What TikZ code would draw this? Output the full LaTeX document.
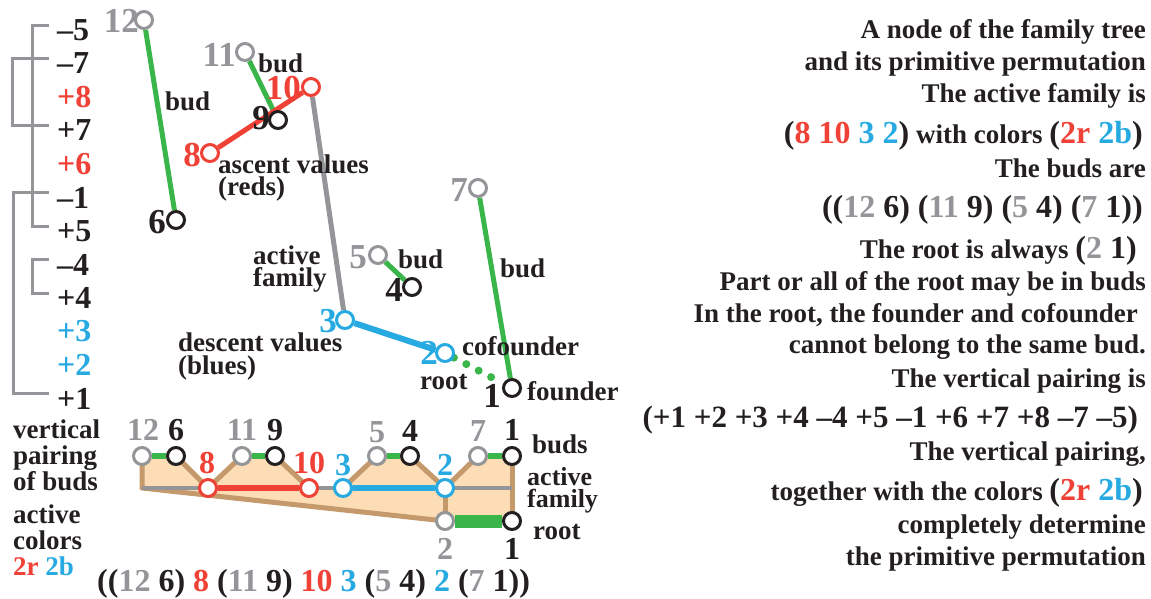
\documentclass[tikz,border=0pt]{standalone}
\usepackage{fontspec}
\setmainfont{Liberation Serif}
\definecolor{cR}{RGB}{239,65,54}
\definecolor{cB}{RGB}{39,170,225}
\definecolor{cG}{RGB}{57,181,74}
\definecolor{cY}{RGB}{147,149,152}
\definecolor{cK}{RGB}{35,31,32}
\definecolor{cT}{RGB}{196,154,108}
\definecolor{cP}{RGB}{253,221,181}
\pgfdeclarelayer{back}
\pgfdeclarelayer{mid}
\pgfsetlayers{back,mid,main}
\newcommand\xr[1]{\textcolor{cR}{#1}}
\newcommand\xb[1]{\textcolor{cB}{#1}}
\newcommand\xg[1]{\textcolor{cY}{#1}}
\newcommand\bgf{\fontsize{32}{32}\selectfont}
\begin{document}
\begin{tikzpicture}[x=1pt,y=-1pt,font=\bfseries\fontsize{27}{22}\selectfont,
  every node/.style={inner sep=0pt,text=cK},
  nd/.style={circle,draw=#1,line width=3pt,fill=white,minimum size=17pt,inner sep=0pt},
  unum/.style={font=\bfseries\fontsize{35}{35}\selectfont,anchor=east,text=#1},
  lnum/.style={font=\bfseries\fontsize{32}{32}\selectfont,text=#1},
  bnum/.style={font=\bfseries\fontsize{32}{32}\selectfont,anchor=west,text=#1},
  wrd/.style={anchor=base west},
  rt/.style={anchor=base east},
  brk/.style={draw=cY,line width=3pt},
  budline/.style={draw=cG,line width=5pt},
  tanl/.style={draw=cT,line width=5pt,line join=round,line cap=round}]
\useasboundingbox (0,0) rectangle (1151,598);

% ---------- left vertical pairing labels ----------
\node[bnum=cK] (bm5) at (57,30) {–5};
\node[bnum=cK] (bm7) at (57,63.5) {–7};
\node[bnum=cR] (bp8) at (57,97) {+8};
\node[bnum=cK] (bp7) at (57,130.5) {+7};
\node[bnum=cR] (bp6) at (57,164) {+6};
\node[bnum=cK] (bm1) at (57,197.5) {–1};
\node[bnum=cK] (bp5) at (57,231) {+5};
\node[bnum=cK] (bm4) at (57,264.5) {–4};
\node[bnum=cK] (bp4) at (57,298) {+4};
\node[bnum=cB] (bp3) at (57,331.5) {+3};
\node[bnum=cB] (bp2) at (57,365) {+2};
\node[bnum=cK] (bp1) at (57,398.5) {+1};
\draw[brk] ([shift={(-8,-5)}]bm5.west) -- ++(-17,0) |- ([shift={(-8,-5)}]bp5.west);
\draw[brk] ([shift={(-8,-5)}]bm7.west) -- ++(-37,0) |- ([shift={(-8,-5)}]bp7.west);
\draw[brk] ([shift={(-8,-5)}]bm1.west) -- ++(-36,0) |- ([shift={(-8,-5)}]bp1.west);
\draw[brk] ([shift={(-8,-5)}]bm4.west) -- ++(-17,0) |- ([shift={(-8,-5)}]bp4.west);

% ---------- upper diagram ----------
\node[nd=cY] (u12) at (144,20) {};
\node[nd=cK] (u6) at (176,220) {};
\node[nd=cY] (u11) at (245,52) {};
\node[nd=cK] (u9) at (278,120) {};
\node[nd=cR] (u10) at (311,87) {};
\node[nd=cR] (u8) at (210,153) {};
\node[nd=cY] (u7) at (478,188) {};
\node[nd=cY] (u5) at (378,255) {};
\node[nd=cK] (u4) at (412,287) {};
\node[nd=cB] (u3) at (345,320) {};
\node[nd=cB] (u2) at (445,353) {};
\node[nd=cK] (u1) at (512,388) {};

\node[unum=cY] (t12) at (139,21) {12};
\node[unum=cK] (t6) at (166,222) {6};
\node[unum=cY] (t11) at (236,55) {11};
\node[unum=cK] (t9) at (270,118) {9};
\node[unum=cR] (t10) at (301,88) {10};
\node[unum=cR] (t8) at (201,155) {8};
\node[unum=cY] (t7) at (468,190) {7};
\node[unum=cY] (t5) at (367,257) {5};
\node[unum=cK] (t4) at (403,290) {4};
\node[unum=cB] (t3) at (337,321) {3};
\node[unum=cB] (t2) at (438,353) {2};
\node[unum=cK] (t1) at (501,396) {1};

\begin{pgfonlayer}{mid}
\draw[budline] (u12) -- (u6);
\draw[budline] (u11) -- (u9);
\draw[budline] (u5) -- (u4);
\draw[budline] (u7) -- (u1);
\draw[draw=cR,line width=5pt] (u8) -- (u10);
\draw[draw=cY,line width=5pt] (u10) -- (u3);
\draw[draw=cB,line width=6pt] (u3) -- (u2);
\draw[draw=cG,line width=8pt,line cap=round,dash pattern=on 0pt off 14pt] (u2) -- (u1);
\end{pgfonlayer}

\node[wrd] (w1) at (165,110) {bud};
\node[wrd] (w2) at (258,72) {bud};
\node[wrd] (w3) at (218,173) {ascent values};
\node[wrd] (w4) at (218,195) {(reds)};
\node[wrd] (w5) at (253,264) {active};
\node[wrd] (w6) at (253,286) {family};
\node[wrd] (w7) at (178,351) {descent values};
\node[wrd] (w8) at (178,374) {(blues)};
\node[wrd] (w9) at (398,268) {bud};
\node[wrd] (w10) at (500,277) {bud};
\node[wrd] (w11) at (462,355) {cofounder};
\node[wrd] (w12) at (420,389) {root};
\node[wrd] (w13) at (527,400) {founder};

% ---------- lower diagram ----------
\node[nd=cY] (l12) at (142,456) {};
\node[nd=cK] (l6) at (176,456) {};
\node[nd=cY] (l11) at (242,456) {};
\node[nd=cK] (l9) at (275,456) {};
\node[nd=cR] (l8) at (208,488) {};
\node[nd=cR] (l10) at (309,488) {};
\node[nd=cB] (l3) at (343,488) {};
\node[nd=cY] (l5) at (377,456) {};
\node[nd=cK] (l4) at (410,456) {};
\node[nd=cB] (l2) at (445,488) {};
\node[nd=cY] (l7) at (478,456) {};
\node[nd=cK] (l1) at (512,456) {};
\node[nd=cY] (r2) at (445,521) {};
\node[nd=cK] (r1) at (512,521) {};
\coordinate (cL) at (142,488);
\coordinate (cE) at (512,488);

\node[lnum=cY] (s12) at (143,430) {12};
\node[lnum=cK] (s6) at (176,430) {6};
\node[lnum=cY] (s11) at (242,430) {11};
\node[lnum=cK] (s9) at (275,430) {9};
\node[lnum=cY] (s5) at (377,432) {5};
\node[lnum=cK] (s4) at (410,431) {4};
\node[lnum=cY] (s7) at (478,431) {7};
\node[lnum=cK] (s1) at (512,430) {1};
\node[lnum=cR] (s8) at (207,463) {8};
\node[lnum=cR] (s10) at (309,463) {10};
\node[lnum=cB] (s3) at (343,465) {3};
\node[lnum=cB] (s2) at (445,465) {2};
\node[lnum=cY] (q2) at (445,549) {2};
\node[lnum=cK] (q1) at (512,549) {1};

\begin{pgfonlayer}{back}
\fill[cP] (l12.center) -- (l6.center) -- (l8.center) -- (l11.center) -- (l9.center)
  -- (l10.center) -- (l3.center) -- (l5.center) -- (l4.center) -- (l2.center)
  -- (l7.center) -- (l1.center) -- (r1.center) -- (r2.center) -- (cL) -- cycle;
\end{pgfonlayer}
\begin{pgfonlayer}{mid}
\draw[tanl] (l12.center) -- (cL) -- (r2.center);
\draw[tanl] (l6.center) -- (l8.center) -- (l11.center);
\draw[tanl] (l9.center) -- (l10.center);
\draw[tanl] (l3.center) -- (l5.center);
\draw[tanl] (l4.center) -- (l2.center) -- (l7.center);
\draw[tanl] (l1.center) -- (r1.center);
\draw[tanl] (l2.center) -- (r2.center);
\draw[draw=cY,line width=3.5pt] (cL) -- (cE);
\draw[draw=cG,line width=6pt] (l12) -- (l6);
\draw[draw=cG,line width=6pt] (l11) -- (l9);
\draw[draw=cG,line width=6pt] (l5) -- (l4);
\draw[draw=cG,line width=6pt] (l7) -- (l1);
\draw[draw=cG,line width=13pt] (r2) -- (r1);
\draw[draw=cR,line width=6pt] (l8) -- (l10);
\draw[draw=cB,line width=6pt] (l3) -- (l2);
\end{pgfonlayer}

\node[wrd] (v1) at (532,453) {buds};
\node[wrd,font=\bfseries\fontsize{26}{22}\selectfont] (v2) at (527,485) {active};
\node[wrd,font=\bfseries\fontsize{26}{22}\selectfont] (v3) at (527,507) {family};
\node[wrd] (v4) at (533,539) {root};

\node[wrd] (p1) at (13,438) {vertical};
\node[wrd] (p2) at (13,464) {pairing};
\node[wrd] (p3) at (13,490) {of buds};
\node[wrd] (p4) at (13,523) {active};
\node[wrd] (p5) at (13,549) {colors};
\node[wrd] (p6) at (13,575) {\xr{2r} \xb{2b}};

\node[wrd,font=\bfseries\fontsize{32}{32}\selectfont] (fm) at (97,591)
  {((\xg{12} 6) \xr{8} (\xg{11} 9) \xr{10} \xb{3} (\xg{5} 4) \xb{2} (\xg{7} 1))};

% ---------- right text ----------
\node[rt] (r01) at (1146,38) {A node of the family tree};
\node[rt] (r02) at (1146,70) {and its primitive permutation};
\node[rt] (r03) at (1146,102) {The active family is};
\node[rt] (r04) at (1143,143) {{\bgf(\xr{8 10} \xb{3 2})} with colors {\bgf(\xr{2r} \xb{2b})}};
\node[rt] (r05) at (1146,177) {The buds are};
\node[rt] (r06) at (1143,217) {\bgf((\xg{12} 6) (\xg{11} 9) (\xg{5} 4) (\xg{7} 1))};
\node[rt] (r07) at (1137,258) {The root is always {\bgf(\xg{2} 1)}};
\node[rt] (r08) at (1146,290) {Part or all of the root may be in buds};
\node[rt] (r09) at (1138,322) {In the root, the founder and cofounder};
\node[rt] (r10) at (1146,353) {cannot belong to the same bud.};
\node[rt] (r11) at (1146,387) {The vertical pairing is};
\node[rt,font=\bfseries\fontsize{31}{31}\selectfont] (r12) at (1138,427) {(+1 +2 +3 +4 –4 +5 –1 +6 +7 +8 –7 –5)};
\node[rt] (r13) at (1146,460) {The vertical pairing,};
\node[rt] (r14) at (1143,500) {together with the colors {\bgf(\xr{2r} \xb{2b})}};
\node[rt] (r15) at (1146,533) {completely determine};
\node[rt] (r16) at (1146,565) {the primitive permutation};
\end{tikzpicture}
\end{document}
